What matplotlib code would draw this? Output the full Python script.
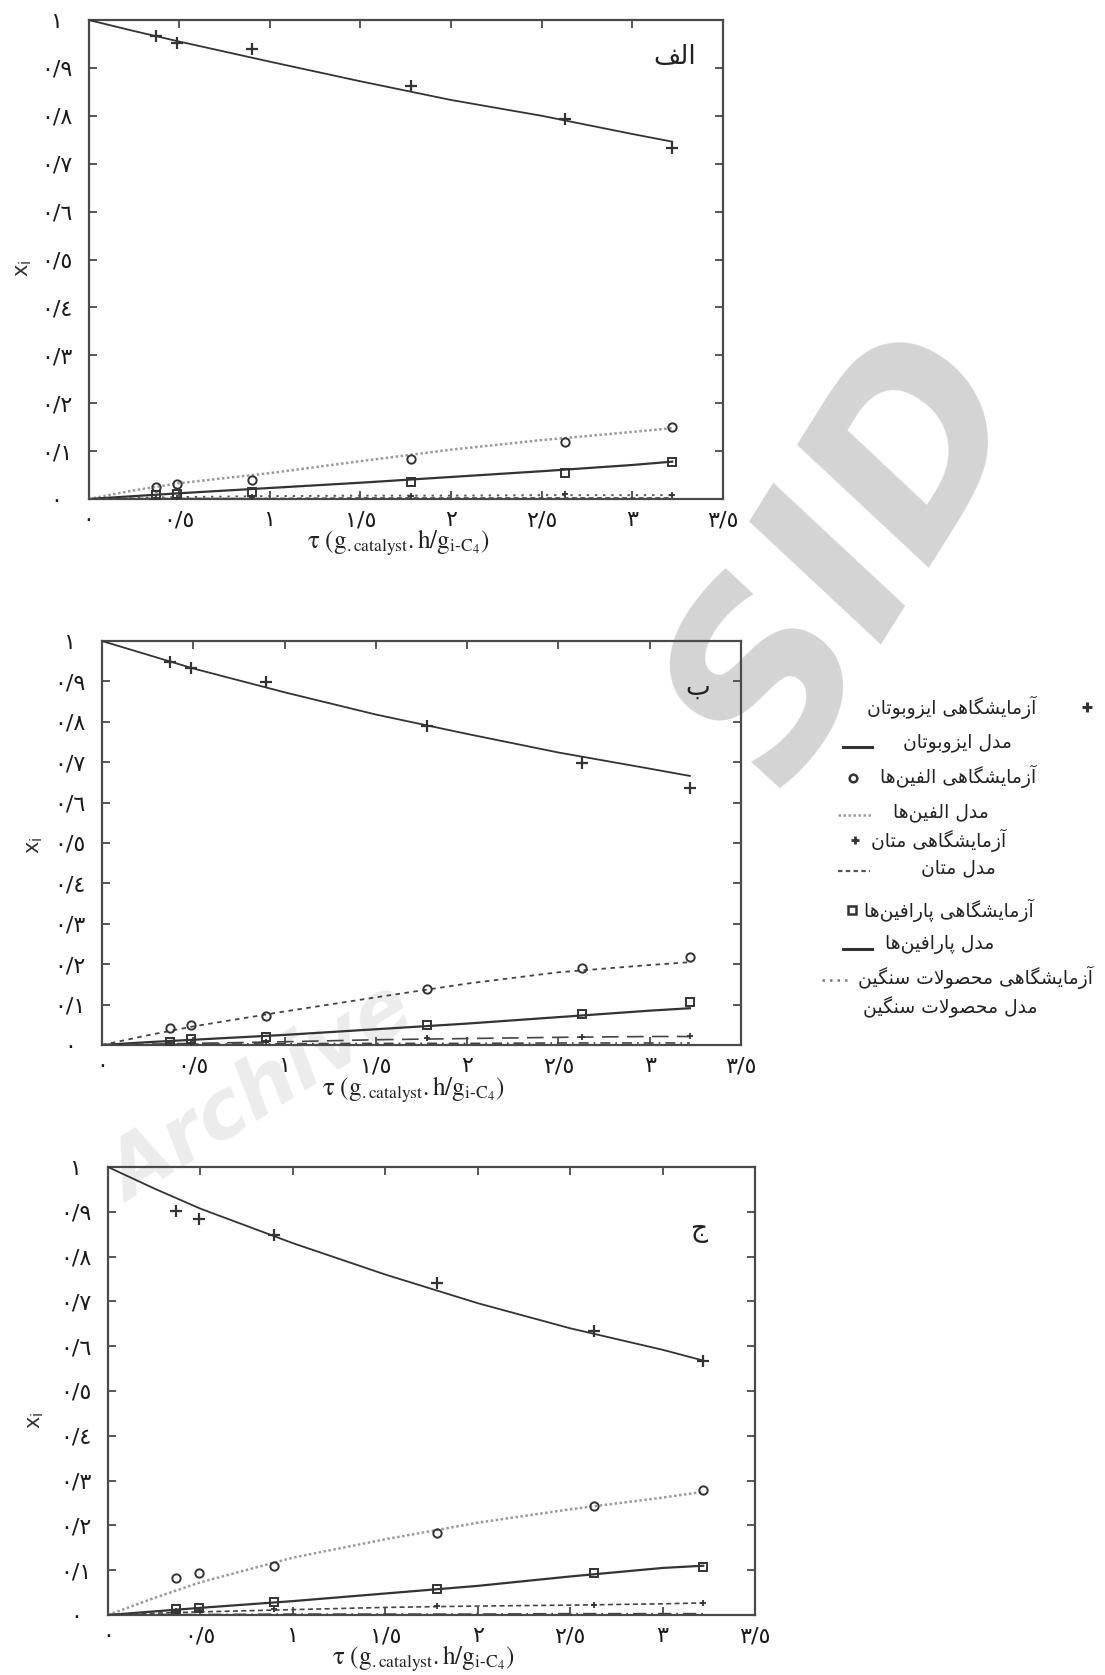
import matplotlib
matplotlib.use("Agg")
import matplotlib.pyplot as plt

plt.rcParams['font.family'] = ['DejaVu Sans']
plt.rcParams['mathtext.fontset'] = 'stix'

# ---------------- data ----------------
tau_exp = [0.37, 0.49, 0.90, 1.78, 2.63, 3.22]
tau_mod = [0.0, 0.25, 0.5, 1.0, 1.5, 2.0, 2.5, 3.0, 3.22]

# panel الف
a_iso_exp = [0.966, 0.953, 0.940, 0.863, 0.793, 0.733]
a_iso_mod = [1.0, 0.977, 0.955, 0.913, 0.872, 0.833, 0.800, 0.762, 0.746]
a_ole_exp = [0.026, 0.032, 0.039, 0.083, 0.120, 0.150]
a_ole_mod = [0.0, 0.018, 0.033, 0.054, 0.079, 0.103, 0.123, 0.140, 0.148]
a_par_exp = [0.008, 0.010, 0.014, 0.035, 0.055, 0.078]
a_par_mod = [0.0, 0.006, 0.012, 0.023, 0.034, 0.046, 0.058, 0.071, 0.078]
a_met_exp = [0.002, 0.003, 0.005, 0.006, 0.011, 0.009]
a_met_mod = [0.0, 0.002, 0.004, 0.006, 0.007, 0.007, 0.008, 0.008, 0.008]
a_hvy_mod = [0.0, 0.001, 0.001, 0.001, 0.002, 0.002, 0.002, 0.002, 0.002]

# panel ب
b_iso_exp = [0.949, 0.932, 0.899, 0.790, 0.699, 0.635]
b_iso_mod = [1.0, 0.966, 0.932, 0.873, 0.818, 0.770, 0.724, 0.684, 0.666]
b_ole_exp = [0.041, 0.049, 0.072, 0.138, 0.191, 0.218]
b_ole_mod = [0.0, 0.024, 0.046, 0.083, 0.118, 0.152, 0.180, 0.198, 0.205]
b_par_exp = [0.008, 0.014, 0.020, 0.049, 0.076, 0.107]
b_par_mod = [0.0, 0.007, 0.013, 0.025, 0.039, 0.053, 0.069, 0.085, 0.091]
b_met_exp = [0.004, 0.006, 0.008, 0.017, 0.020, 0.022]
b_met_mod = [0.0, 0.002, 0.004, 0.008, 0.013, 0.016, 0.019, 0.021, 0.021]
b_hvy_mod = [0.0, 0.001, 0.002, 0.003, 0.004, 0.004, 0.005, 0.005, 0.005]

# panel ج
c_iso_exp = [0.901, 0.883, 0.849, 0.740, 0.633, 0.568]
c_iso_mod = [1.0, 0.952, 0.907, 0.830, 0.760, 0.696, 0.640, 0.592, 0.568]
c_ole_exp = [0.082, 0.093, 0.110, 0.182, 0.243, 0.279]
c_ole_mod = [0.0, 0.038, 0.073, 0.128, 0.169, 0.206, 0.236, 0.262, 0.275]
c_par_exp = [0.013, 0.015, 0.028, 0.058, 0.093, 0.108]
c_par_mod = [0.0, 0.008, 0.016, 0.031, 0.048, 0.065, 0.086, 0.105, 0.110]
c_met_exp = [0.010, 0.012, 0.013, 0.019, 0.022, 0.027]
c_met_mod = [0.001, 0.004, 0.007, 0.012, 0.017, 0.020, 0.022, 0.025, 0.027]
c_hvy_mod = [0.0, 0.001, 0.001, 0.002, 0.002, 0.002, 0.003, 0.003, 0.003]

panel_names = ["الف", "ب", "ج"]
x_ticks = [0, 0.5, 1, 1.5, 2, 2.5, 3, 3.5]
x_tick_labels = ["٠", "٠/٥", "١", "١/٥", "٢", "٢/٥", "٣", "٣/٥"]
y_ticks = [0, 0.1, 0.2, 0.3, 0.4, 0.5, 0.6, 0.7, 0.8, 0.9, 1.0]
y_tick_labels = ["٠", "٠/١", "٠/٢", "٠/٣", "٠/٤", "٠/٥", "٠/٦", "٠/٧", "٠/٨", "٠/٩", "١"]

legend_labels = [
    "آزمایشگاهی ایزوبوتان",
    "مدل ایزوبوتان",
    "آزمایشگاهی الفین‌ها",
    "مدل الفین‌ها",
    "آزمایشگاهی متان",
    "مدل متان",
    "آزمایشگاهی پارافین‌ها",
    "مدل پارافین‌ها",
    "آزمایشگاهی محصولات سنگین",
    "مدل محصولات سنگین",
]

# ------------- minimal Arabic/Persian shaping -------------
FORMS = {
    '\u0627': ('\uFE8D', '\uFE8E', None, None),
    '\u0622': ('\uFE81', '\uFE82', None, None),
    '\u062F': ('\uFEA9', '\uFEAA', None, None),
    '\u0631': ('\uFEAD', '\uFEAE', None, None),
    '\u0632': ('\uFEAF', '\uFEB0', None, None),
    '\u0648': ('\uFEED', '\uFEEE', None, None),
    '\u0628': ('\uFE8F', '\uFE90', '\uFE91', '\uFE92'),
    '\u062A': ('\uFE95', '\uFE96', '\uFE97', '\uFE98'),
    '\u062C': ('\uFE9D', '\uFE9E', '\uFE9F', '\uFEA0'),
    '\u062D': ('\uFEA1', '\uFEA2', '\uFEA3', '\uFEA4'),
    '\u0633': ('\uFEB1', '\uFEB2', '\uFEB3', '\uFEB4'),
    '\u0634': ('\uFEB5', '\uFEB6', '\uFEB7', '\uFEB8'),
    '\u0635': ('\uFEB9', '\uFEBA', '\uFEBB', '\uFEBC'),
    '\u0641': ('\uFED1', '\uFED2', '\uFED3', '\uFED4'),
    '\u0644': ('\uFEDD', '\uFEDE', '\uFEDF', '\uFEE0'),
    '\u0645': ('\uFEE1', '\uFEE2', '\uFEE3', '\uFEE4'),
    '\u0646': ('\uFEE5', '\uFEE6', '\uFEE7', '\uFEE8'),
    '\u0647': ('\uFEE9', '\uFEEA', '\uFEEB', '\uFEEC'),
    '\u067E': ('\uFB56', '\uFB57', '\uFB58', '\uFB59'),
    '\u06AF': ('\uFB92', '\uFB93', '\uFB94', '\uFB95'),
    '\u06CC': ('\uFBFC', '\uFBFD', '\uFBFE', '\uFBFF'),
}


def shape(s):
    ch = list(s)
    n = len(ch)
    dual = lambda c: c in FORMS and FORMS[c][2] is not None
    res = []
    i = 0
    while i < n:
        c = ch[i]
        if c not in FORMS:
            if c != '\u200c':
                res.append(c)
            i += 1
            continue
        jp = i > 0 and dual(ch[i - 1])
        if c == '\u0644' and i + 1 < n and ch[i + 1] in ('\u0627', '\u0622'):
            lig = ('\uFEFB', '\uFEFC') if ch[i + 1] == '\u0627' else ('\uFEF5', '\uFEF6')
            res.append(lig[1] if jp else lig[0])
            i += 2
            continue
        jn = dual(c) and i + 1 < n and ch[i + 1] in FORMS
        f = FORMS[c]
        if jp and jn:
            g = f[3]
        elif jp:
            g = f[1]
        elif jn:
            g = f[2]
        else:
            g = f[0]
        res.append(g)
        i += 1
    return ''.join(reversed(res))


# ---------------- figure ----------------
W, H = 1105, 1675
fig = plt.figure(figsize=(W / 100, H / 100), dpi=100)
fig.patch.set_facecolor('white')

# watermarks (behind everything)
fig.text(852 / W, 1 - 560 / H, 'SID', rotation=58, fontsize=175, fontweight='bold',
         fontstyle='italic', color='#d4d4d4', ha='center', va='center', zorder=-1)
fig.text(262 / W, 1 - 1095 / H, 'Archive', rotation=32, fontsize=58, fontweight='bold',
         fontstyle='italic', color='#ececec', ha='center', va='center', zorder=-1)

# axes boxes in pixels: left, right, top, bottom
boxes = [(88.6, 723, 20, 499), (102, 741, 641, 1045), (108, 755, 1167, 1615)]
letter_pos = [(675, 57), (698, 688), (700, 1230)]
ylabel_pos = [(24, 268), (35, 845), (36, 1420)]
xlabel_y = [543, 1090, 1659]

XLABEL = (r'$\mathrm{\tau}\ (\mathrm{g}_{.\mathrm{catalyst}}.\mathrm{h/g}_{\mathrm{i'
          + '\u2010' + r'C}_{4}})$')

LC = '#333333'
FR = '#4a4a4a'

panels = [
    (a_iso_exp, a_iso_mod, a_ole_exp, a_ole_mod, a_par_exp, a_par_mod, a_met_exp, a_met_mod, a_hvy_mod),
    (b_iso_exp, b_iso_mod, b_ole_exp, b_ole_mod, b_par_exp, b_par_mod, b_met_exp, b_met_mod, b_hvy_mod),
    (c_iso_exp, c_iso_mod, c_ole_exp, c_ole_mod, c_par_exp, c_par_mod, c_met_exp, c_met_mod, c_hvy_mod),
]
ole_styles = [dict(color='#9a9a9a', ls=(0, (1, 1)), lw=1.8),
              dict(color='#444444', ls=(0, (2.5, 2.5)), lw=1.3),
              dict(color='#9a9a9a', ls=(0, (1, 1)), lw=1.8)]
met_styles = [dict(color='#555555', ls=(0, (1.2, 3)), lw=1.4),
              dict(color='#444444', ls=(0, (10, 5)), lw=1.2),
              dict(color='#444444', ls=(0, (3, 2)), lw=1.2)]
hvy_styles = [dict(color='#444444', ls=(0, (3, 2)), lw=1.2),
              dict(color='#444444', ls=(0, (6, 3, 1, 3)), lw=1.2),
              dict(color='#444444', ls=(0, (8, 3, 1, 3)), lw=1.2)]

for k, (l, r, t, b) in enumerate(boxes):
    ax = fig.add_axes([l / W, 1 - b / H, (r - l) / W, (b - t) / H])
    ax.set_facecolor('none')
    ie, im, oe, om, pe, pm, me, mm, hm = panels[k]
    ax.plot(tau_mod, im, color=LC, lw=1.3, zorder=3)
    ax.plot(tau_mod, om, zorder=3, **ole_styles[k])
    ax.plot(tau_mod, pm, color=LC, lw=1.6, zorder=3)
    ax.plot(tau_mod, mm, zorder=3, **met_styles[k])
    ax.plot(tau_mod, hm, zorder=3, **hvy_styles[k])
    ax.plot(tau_exp, ie, ls='none', marker='+', ms=8, mew=1.6, color=LC, zorder=4)
    ax.plot(tau_exp, oe, ls='none', marker='o', ms=6, mew=1.4, mfc='none', mec=LC, zorder=4)
    ax.plot(tau_exp, pe, ls='none', marker='s', ms=6, mew=1.4, mfc='none', mec=LC, zorder=4)
    ax.plot(tau_exp, me, ls='none', marker='+', ms=5, mew=1.3, color=LC, zorder=4)

    ax.set_xlim(0, 3.5)
    ax.set_ylim(0, 1)
    ax.set_xticks(x_ticks, x_tick_labels, fontsize=16)
    ax.set_yticks(y_ticks, y_tick_labels, fontsize=16)
    for lbl in ax.get_yticklabels():
        lbl.set_horizontalalignment('center')
    ax.tick_params(direction='in', top=True, right=True, length=6, width=1.3,
                   color=FR, labelcolor='#1a1a1a')
    ax.tick_params(axis='y', pad=23)
    ax.tick_params(axis='x', pad=8)
    for sp in ax.spines.values():
        sp.set_color(FR)
        sp.set_linewidth(1.6)

    lx, ly = letter_pos[k]
    fig.text(lx / W, 1 - ly / H, shape(panel_names[k]), fontsize=19,
             ha='center', va='center', color='#222222')
    yx, yy = ylabel_pos[k]
    fig.text(yx / W, 1 - yy / H, r'$\mathsf{x}_{\mathsf{i}}$', rotation=90,
             fontsize=15, ha='center', va='center', math_fontfamily='dejavusans',
             color='#333333')
    fig.text(((l + r) / 2 - 8) / W, 1 - xlabel_y[k] / H, XLABEL,
             fontsize=18, ha='center', va='center', color='#222222')

# ---------------- legend (drawn manually, right side) ----------------
lg = fig.add_axes([0, 0, 1, 1], zorder=5)
lg.set_xlim(0, W)
lg.set_ylim(H, 0)
lg.axis('off')
lg.patch.set_alpha(0)

row_y = [707, 743, 776, 812, 840, 868, 910, 945, 977, 1007]
text_cx = [952, 957, 958, 941, 939, 958, 949, 940, 976, 950]
sym_kind = ['plus', 'solid', 'circle', 'greydot', 'plus2', 'dash', 'square', 'solid', 'dots', None]
for y, cx, kind, lab in zip(row_y, text_cx, sym_kind, legend_labels):
    lg.text(cx, y, shape(lab), fontsize=13.5, ha='center', va='center', color='#222222')
    if kind == 'plus':
        lg.plot([1087], [y], marker='+', ms=7, mew=2.2, color=LC)
    elif kind == 'plus2':
        lg.plot([855], [y], marker='+', ms=6, mew=2.0, color=LC)
    elif kind == 'circle':
        lg.plot([853], [y + 2], marker='o', ms=5.5, mew=1.8, mfc='none', mec=LC)
    elif kind == 'square':
        lg.plot([852], [y], marker='s', ms=5.5, mew=1.8, mfc='none', mec=LC)
    elif kind == 'solid':
        lg.plot([843, 872], [y + 4, y + 4], color=LC, lw=2.2)
    elif kind == 'greydot':
        lg.plot([838, 871], [y + 3, y + 3], color='#9a9a9a', lw=1.8, ls=(0, (1, 1)))
    elif kind == 'dash':
        lg.plot([838, 870], [y + 3, y + 3], color='#555555', lw=1.6, ls=(0, (2, 1.5)))
    elif kind == 'dots':
        lg.plot([822, 848], [y + 3, y + 3], color='#777777', lw=1.8, ls=(0, (1, 2)))

fig.savefig('out.png', dpi=100, facecolor='white')
